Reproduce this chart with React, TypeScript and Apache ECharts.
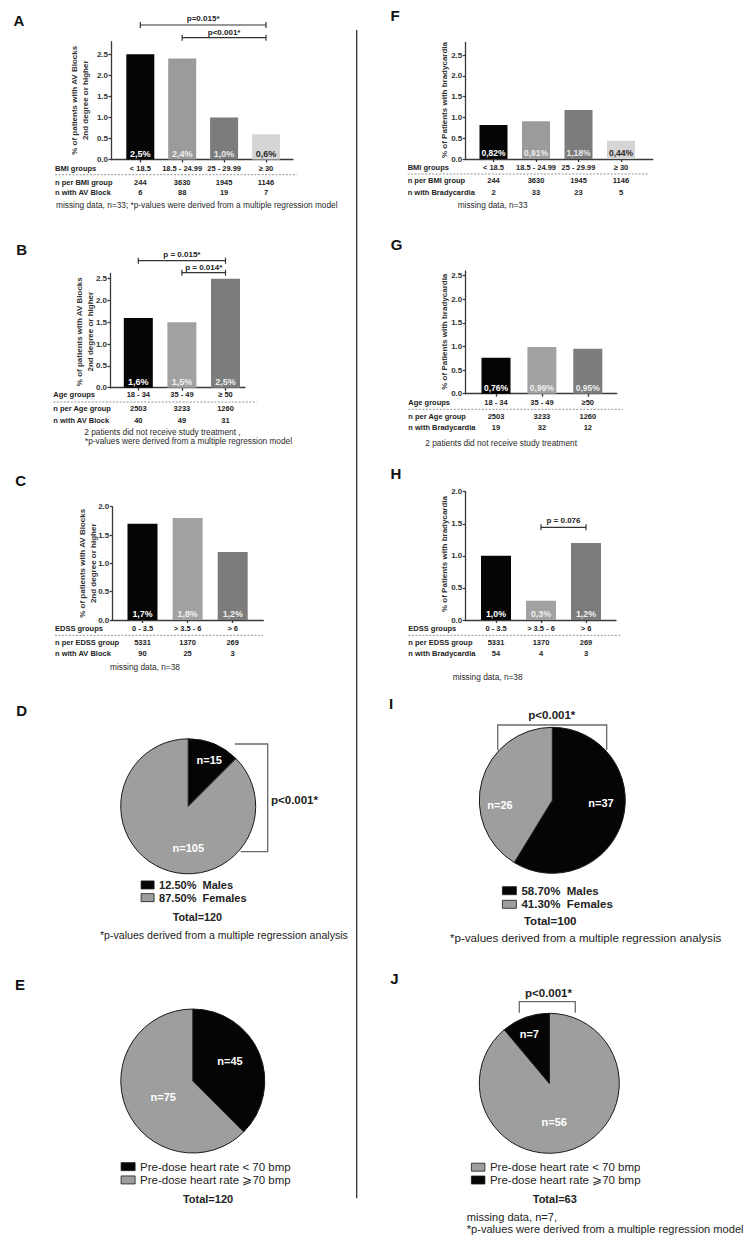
import React, { useEffect, useRef } from 'react';
import * as echarts from 'echarts';

const FONT = '"Liberation Sans", Arial, Helvetica, sans-serif';

// ---------- data ----------
const bmiGroups = ['< 18.5', '18.5 - 24.99', '25 - 29.99', '≥ 30'];
const nPerBmi = [244, 3630, 1945, 1146];
const avBlockBmi = [2.5, 2.4, 1.0, 0.6];
const nAvBlockBmi = [6, 88, 19, 7];
const bradyBmi = [0.82, 0.91, 1.18, 0.44];
const nBradyBmi = [2, 33, 23, 5];

const ageGroups = ['18 - 34', '35 - 49', '≥ 50'];
const ageGroupsBrady = ['18 - 34', '35 - 49', '≥50'];
const nPerAge = [2503, 3233, 1260];
const avBlockAge = [1.6, 1.5, 2.5];
const nAvBlockAge = [40, 49, 31];
const bradyAge = [0.76, 0.99, 0.95];
const nBradyAge = [19, 32, 12];

const edssGroups = ['0 - 3.5', '> 3.5 - 6', '> 6'];
const nPerEdss = [5331, 1370, 269];
const avBlockEdss = [1.7, 1.8, 1.2];
const nAvBlockEdss = [90, 25, 3];
const bradyEdss = [1.0, 0.3, 1.2];
const nBradyEdss = [54, 4, 3];

const ticksTo25 = [0, 0.5, 1.0, 1.5, 2.0, 2.5];
const ticksTo20 = [0, 0.5, 1.0, 1.5, 2.0];

const sexAvBlock = ['12.50%  Males', '87.50%  Females'];
const sexAvBlockN = [15, 105];
const sexBrady = ['58.70%  Males', '41.30%  Females'];
const sexBradyN = [37, 26];
const hrGroups = ['Pre-dose heart rate < 70 bmp', 'Pre-dose heart rate ⩾70 bmp'];
const hrAvBlockN = [45, 75];
const hrBradyN = [56, 7];

// ---------- styling / layout ----------
const BLACK = '#050505';
const GRAY = '#9e9e9e';
const FOUR_BARS = [BLACK, '#9b9b9b', '#7c7c7c', '#d5d5d5'];
const FOUR_LABELS = ['#ffffff', '#eeeeee', '#e8e8e8', '#2a2a2a'];
const THREE_BARS = [BLACK, '#a2a2a2', '#7c7c7c'];
const THREE_LABELS = ['#ffffff', '#f0f0f0', '#f0f0f0'];
const AV_TITLE = ['% of patients with AV Blocks', '2nd degree or higher'];
const BRADY_TITLE = ['% of Patients with bradycardia'];

interface Bracket { from: number; to: number; y: number; textY: number; text: string }
interface Note { text: string; x: number; y: number }
interface BarPanel {
  letter: string; letterPos: [number, number];
  cats: string[]; values: number[]; nPer: number[]; nWith: number[];
  rowNames: string[]; decimals: number; labelSize: number;
  colors: string[]; labelColors: string[];
  yTitle: string[]; yTitlePos: [number, number];
  axisX: number; axisY: number; xEnd: number; unitY: number; yMax: number; yTicks: number[];
  c0: number; step: number; barWidth: number;
  rowY: number[]; rowX: number; dashY: number; dashEnd: number;
  notes: Note[]; brackets: Bracket[];
}

const barPanels: BarPanel[] = [
  {
    letter: 'A', letterPos: [19, 20],
    cats: bmiGroups, values: avBlockBmi, nPer: nPerBmi, nWith: nAvBlockBmi,
    rowNames: ['BMI groups', 'n per BMI group', 'n with AV Block'], decimals: 1, labelSize: 9,
    colors: FOUR_BARS, labelColors: FOUR_LABELS,
    yTitle: AV_TITLE, yTitlePos: [80, 100.3],
    axisX: 111, axisY: 159.5, xEnd: 293, unitY: 42.08, yMax: 2.8, yTicks: ticksTo25,
    c0: 140.3, step: 41.9, barWidth: 28,
    rowY: [168.5, 182, 192.7], rowX: 55, dashY: 174.7, dashEnd: 297,
    notes: [{ text: 'missing data, n=33; *p-values were derived from a multiple regression model', x: 56, y: 205 }],
    brackets: [
      { from: 0, to: 3, y: 25, textY: 18.3, text: 'p=0.015*' },
      { from: 1, to: 3, y: 37.7, textY: 32.3, text: 'p<0.001*' },
    ],
  },
  {
    letter: 'F', letterPos: [395, 15.3],
    cats: bmiGroups, values: bradyBmi, nPer: nPerBmi, nWith: nBradyBmi,
    rowNames: ['BMI groups', 'n per BMI group', 'n with Bradycardia'], decimals: 2, labelSize: 8.5,
    colors: FOUR_BARS, labelColors: FOUR_LABELS,
    yTitle: BRADY_TITLE, yTitlePos: [444.3, 100],
    axisX: 465.3, axisY: 159, xEnd: 652.7, unitY: 41.6, yMax: 2.8, yTicks: ticksTo25,
    c0: 493.5, step: 42.5, barWidth: 28,
    rowY: [167.3, 180.3, 192], rowX: 407.7, dashY: 174, dashEnd: 649,
    notes: [{ text: 'missing data, n=33', x: 457.7, y: 205 }],
    brackets: [],
  },
  {
    letter: 'B', letterPos: [21.7, 249],
    cats: ageGroups, values: avBlockAge, nPer: nPerAge, nWith: nAvBlockAge,
    rowNames: ['Age groups', 'n per Age group', 'n with AV Block'], decimals: 1, labelSize: 9,
    colors: THREE_BARS, labelColors: THREE_LABELS,
    yTitle: AV_TITLE, yTitlePos: [85, 331.7],
    axisX: 110, axisY: 387.7, xEnd: 245, unitY: 43.6, yMax: 2.62, yTicks: ticksTo25,
    c0: 138.3, step: 43.6, barWidth: 29,
    rowY: [394.3, 408.3, 420], rowX: 53.3, dashY: 402, dashEnd: 256.7,
    notes: [
      { text: '2 patients did not receive study treatment ,', x: 84.3, y: 432 },
      { text: '*p-values were derived from a multiple regression model', x: 85, y: 441.3 },
    ],
    brackets: [
      { from: 0, to: 2, y: 260.7, textY: 254, text: 'p = 0.015*' },
      { from: 1, to: 2, y: 272.7, textY: 267.7, text: 'p = 0.014*' },
    ],
  },
  {
    letter: 'G', letterPos: [396.7, 244],
    cats: ageGroupsBrady, values: bradyAge, nPer: nPerAge, nWith: nBradyAge,
    rowNames: ['Age groups', 'n per Age group', 'n with Bradycardia'], decimals: 2, labelSize: 8.5,
    colors: THREE_BARS, labelColors: THREE_LABELS,
    yTitle: BRADY_TITLE, yTitlePos: [444.3, 331.7],
    axisX: 465.3, axisY: 393.7, xEnd: 616.7, unitY: 47.2, yMax: 2.6, yTicks: ticksTo25,
    c0: 496, step: 45.9, barWidth: 29,
    rowY: [402.7, 416, 427.7], rowX: 408.3, dashY: 409.3, dashEnd: 622.7,
    notes: [{ text: '2 patients did not receive study treatment', x: 425.3, y: 442.7 }],
    brackets: [],
  },
  {
    letter: 'C', letterPos: [20.7, 480],
    cats: edssGroups, values: avBlockEdss, nPer: nPerEdss, nWith: nAvBlockEdss,
    rowNames: ['EDSS groups', 'n per EDSS group', 'n with AV Block'], decimals: 1, labelSize: 8.8,
    colors: THREE_BARS, labelColors: THREE_LABELS,
    yTitle: AV_TITLE, yTitlePos: [87.8, 563.3],
    axisX: 112.3, axisY: 620, xEnd: 263.3, unitY: 56.65, yMax: 2.0, yTicks: ticksTo20,
    c0: 142.5, step: 45.1, barWidth: 30,
    rowY: [628.7, 642.3, 653.3], rowX: 55, dashY: 635.3, dashEnd: 263,
    notes: [{ text: 'missing data, n=38', x: 110, y: 667.3 }],
    brackets: [],
  },
  {
    letter: 'H', letterPos: [396, 473.3],
    cats: edssGroups, values: bradyEdss, nPer: nPerEdss, nWith: nBradyEdss,
    rowNames: ['EDSS groups', 'n per EDSS group', 'n with Bradycardia'], decimals: 1, labelSize: 8.8,
    colors: THREE_BARS, labelColors: THREE_LABELS,
    yTitle: BRADY_TITLE, yTitlePos: [444.3, 554],
    axisX: 465.3, axisY: 620, xEnd: 616, unitY: 64.15, yMax: 2.0, yTicks: ticksTo20,
    c0: 496, step: 45, barWidth: 30,
    rowY: [628.7, 642.3, 653.3], rowX: 408.3, dashY: 635.3, dashEnd: 621,
    notes: [{ text: 'missing data, n=38', x: 452.7, y: 677.3 }],
    brackets: [{ from: 1, to: 2, y: 527.3, textY: 520, text: 'p = 0.076' }],
  },
];

interface PiePanel {
  letter: string; letterPos: [number, number];
  names: string[]; values: number[]; colors: string[];
  center: [number, number]; radius: number; labelPos: [number, number][];
  legendLeft: number; legendTop: number; iconW: number; rowH: number; legendSize: number; legendBold: boolean;
  total: string; totalPos: [number, number]; totalSize: number;
  bracket?: number[][]; pText?: { x: number; y: number; align: string };
  notes: Note[]; noteSize: number;
}

const piePanels: PiePanel[] = [
  {
    letter: 'D', letterPos: [21.7, 710],
    names: sexAvBlock, values: sexAvBlockN, colors: [BLACK, GRAY],
    center: [188.2, 806.3], radius: 67.5, labelPos: [[209.3, 760], [188.3, 848.3]],
    legendLeft: 140.7, legendTop: 878.6, iconW: 13, rowH: 12.7, legendSize: 11, legendBold: true,
    total: 'Total=120', totalPos: [197.3, 916.7], totalSize: 10.8,
    bracket: [[235, 744], [267.7, 744], [267.7, 851.7], [240.7, 851.7]],
    pText: { x: 271, y: 800, align: 'left' },
    notes: [{ text: '*p-values derived from a multiple regression analysis', x: 100, y: 935.3 }], noteSize: 10.6,
  },
  {
    letter: 'I', letterPos: [391, 703.3],
    names: sexBrady, values: sexBradyN, colors: [BLACK, GRAY],
    center: [552.3, 800.3], radius: 73, labelPos: [[601, 803.3], [500, 805]],
    legendLeft: 502, legendTop: 883.9, iconW: 14, rowH: 13.6, legendSize: 11.5, legendBold: true,
    total: 'Total=100', totalPos: [550.2, 920.7], totalSize: 11.5,
    bracket: [[497.7, 750], [497.7, 725], [606.7, 725], [606.7, 750]],
    pText: { x: 551.8, y: 715, align: 'center' },
    notes: [{ text: '*p-values derived from a multiple regression analysis', x: 450, y: 937.3 }], noteSize: 11.6,
  },
  {
    letter: 'E', letterPos: [20, 984],
    names: hrGroups, values: hrAvBlockN, colors: [BLACK, GRAY],
    center: [192.8, 1081], radius: 72, labelPos: [[230, 1060.7], [163.3, 1097.3]],
    legendLeft: 120.7, legendTop: 1160, iconW: 14, rowH: 13.3, legendSize: 11.5, legendBold: false,
    total: 'Total=120', totalPos: [208, 1199.3], totalSize: 11,
    notes: [], noteSize: 11,
  },
  {
    letter: 'J', letterPos: [394.3, 978.3],
    names: hrGroups, values: hrBradyN, colors: [GRAY, BLACK],
    center: [549.3, 1083.3], radius: 70, labelPos: [[554.3, 1122.3], [529.3, 1034]],
    legendLeft: 471, legendTop: 1160.8, iconW: 13.5, rowH: 12.8, legendSize: 11.5, legendBold: false,
    total: 'Total=63', totalPos: [554.8, 1199], totalSize: 11,
    bracket: [[519.3, 1012.7], [519.3, 1001.7], [575.3, 1001.7], [575.3, 1012.7]],
    pText: { x: 548.5, y: 993.3, align: 'center' },
    notes: [
      { text: 'missing data, n=7,', x: 466.7, y: 1217.3 },
      { text: '*p-values were derived from a multiple regression model', x: 466.7, y: 1229.3 },
    ],
    noteSize: 11.1,
  },
];

// ---------- helpers ----------
const font = (size: number, bold = false) => `${bold ? 'bold ' : ''}${size}px ${FONT}`;

const text = (
  t: string, x: number, y: number, size: number,
  o: { bold?: boolean; align?: string; fill?: string; rotation?: number; lineHeight?: number } = {}
) => ({
  type: 'text', x, y, rotation: o.rotation ?? 0, silent: true,
  style: {
    text: t, font: font(size, o.bold), fill: o.fill ?? '#222',
    align: o.align ?? 'left', verticalAlign: 'middle', lineHeight: o.lineHeight,
  },
});

const line = (x1: number, y1: number, x2: number, y2: number, stroke = '#333', lineWidth = 1.2, lineDash?: number[]) => ({
  type: 'line', silent: true,
  shape: { x1, y1, x2, y2 },
  style: { stroke, lineWidth, lineDash },
});

function buildOption() {
  const grid: any[] = [];
  const xAxis: any[] = [];
  const yAxis: any[] = [];
  const series: any[] = [];
  const axisLineStyle = { color: '#3a3a3a', width: 1.3 };
  const tableLabel = { fontFamily: FONT, fontSize: 7.5, fontWeight: 'bold', color: '#222', lineHeight: 9 };

  barPanels.forEach((p, gi) => {
    const top = p.axisY - p.yMax * p.unitY;
    const xMin = (p.axisX - p.c0) / p.step;
    const xMax = (p.xEnd - p.c0) / p.step;
    const idx = p.cats.map((_, i) => i);
    grid.push({
      left: p.axisX, top, width: p.xEnd - p.axisX, height: p.axisY - top,
      containLabel: false, outerBoundsMode: 'none',
    });
    xAxis.push({
      type: 'value', gridIndex: gi, position: 'bottom', min: xMin, max: xMax,
      splitLine: { show: false },
      axisLine: { show: true, onZero: false, lineStyle: axisLineStyle },
      axisTick: { show: true, length: 3, customValues: idx, lineStyle: axisLineStyle },
      axisLabel: {
        ...tableLabel, margin: p.rowY[0] - p.axisY - 4.5, customValues: idx,
        formatter: (v: number) => p.cats[Math.round(v)],
      },
    });
    [p.nPer, p.nWith].forEach((arr, k) => {
      xAxis.push({
        type: 'value', gridIndex: gi, position: 'bottom', offset: p.rowY[k + 1] - p.axisY - 4.5,
        min: xMin, max: xMax,
        splitLine: { show: false }, axisLine: { show: false }, axisTick: { show: false },
        axisLabel: {
          ...tableLabel, margin: 0, customValues: idx,
          formatter: (v: number) => String(arr[Math.round(v)]),
        },
      });
    });
    yAxis.push({
      type: 'value', gridIndex: gi, min: 0, max: p.yMax,
      splitLine: { show: false },
      axisLine: { show: true, onZero: false, lineStyle: axisLineStyle },
      axisTick: { show: true, length: 2.5, customValues: p.yTicks, lineStyle: axisLineStyle },
      axisLabel: {
        customValues: p.yTicks, margin: 3, formatter: (v: number) => v.toFixed(1),
        fontFamily: FONT, fontSize: 8, fontWeight: 'bold', color: '#333',
      },
    });
    series.push({
      type: 'bar', xAxisIndex: gi * 3, yAxisIndex: gi, barWidth: p.barWidth, silent: true,
      data: p.values.map((v, i) => ({
        value: [i, v], itemStyle: { color: p.colors[i] }, label: { color: p.labelColors[i] },
      })),
      label: {
        show: true, position: 'insideBottom', distance: 1.5,
        fontFamily: FONT, fontSize: p.labelSize, fontWeight: 'bold',
        formatter: (prm: any) => prm.value[1].toFixed(p.decimals).replace('.', ',') + '%',
      },
    });
  });

  const legend: any[] = [];
  piePanels.forEach((p) => {
    series.push({
      type: 'pie', center: p.center, radius: p.radius, startAngle: 90, clockwise: true,
      silent: true, avoidLabelOverlap: false, emphasis: { disabled: true },
      itemStyle: { borderColor: '#1a1a1a', borderWidth: 1 },
      label: {
        show: true, position: 'inside', formatter: 'n={c}', color: '#fff', overflow: 'none',
        fontFamily: FONT, fontSize: 11, fontWeight: 'bold',
      },
      labelLine: { show: false },
      labelLayout: (prm: any) => ({
        x: p.labelPos[prm.dataIndex][0], y: p.labelPos[prm.dataIndex][1],
        align: 'center', verticalAlign: 'middle',
      }),
      data: p.names.map((n, i) => ({ name: n, value: p.values[i], itemStyle: { color: p.colors[i] } })),
    });
    legend.push({
      data: p.names.map((n, i) => ({ name: n, itemStyle: { color: p.colors[i], borderColor: '#1a1a1a', borderWidth: 0.8 } })),
      left: p.legendLeft, top: p.legendTop, orient: 'vertical', padding: 0, itemGap: 0,
      itemWidth: p.iconW, itemHeight: 8, icon: 'rect', selectedMode: false,
      textStyle: {
        fontFamily: FONT, fontSize: p.legendSize, fontWeight: p.legendBold ? 'bold' : 'normal',
        color: '#222', lineHeight: p.rowH,
      },
    });
  });

  return {
    animation: false,
    backgroundColor: '#ffffff',
    textStyle: { fontFamily: FONT },
    grid, xAxis, yAxis, series, legend,
  };
}

function staticGraphics() {
  const els: any[] = [];
  // divider between the two columns
  els.push(line(356.7, 30, 356.7, 1198.3, '#222', 1.2));

  barPanels.forEach((p) => {
    els.push(text(p.letter, p.letterPos[0], p.letterPos[1], 15, { bold: true, align: 'center', fill: '#111' }));
    els.push(text(p.yTitle.join('\n'), p.yTitlePos[0], p.yTitlePos[1], 8, {
      bold: true, align: 'center', fill: '#333', rotation: Math.PI / 2, lineHeight: 10.8,
    }));
    p.rowNames.forEach((n, k) => els.push(text(n, p.rowX, p.rowY[k], 7.5, { bold: true })));
    els.push(line(p.rowX, p.dashY, p.dashEnd, p.dashY, '#777', 0.8, [2, 1.5]));
    p.notes.forEach((n) => els.push(text(n.text, n.x, n.y, 8.3, { fill: '#2a2a2a' })));
  });

  piePanels.forEach((p) => {
    els.push(text(p.letter, p.letterPos[0], p.letterPos[1], 15, { bold: true, align: 'center', fill: '#111' }));
    if (p.bracket && p.pText) {
      els.push({
        type: 'polyline', silent: true, shape: { points: p.bracket },
        style: { stroke: '#6a6a6a', lineWidth: 1.3, fill: null },
      });
      els.push(text('p<0.001*', p.pText.x, p.pText.y, 11.5, { bold: true, align: p.pText.align }));
    }
    els.push(text(p.total, p.totalPos[0], p.totalPos[1], p.totalSize, { bold: true, align: 'center' }));
    p.notes.forEach((n) => els.push(text(n.text, n.x, n.y, p.noteSize)));
  });
  return els;
}

function bracketGraphics(chart: echarts.ECharts) {
  const els: any[] = [];
  barPanels.forEach((p, gi) => {
    p.brackets.forEach((b) => {
      const x1 = chart.convertToPixel({ xAxisIndex: gi * 3 }, b.from) as unknown as number;
      const x2 = chart.convertToPixel({ xAxisIndex: gi * 3 }, b.to) as unknown as number;
      els.push(line(x1, b.y, x2, b.y));
      els.push(line(x1, b.y - 3, x1, b.y + 3));
      els.push(line(x2, b.y - 3, x2, b.y + 3));
      els.push(text(b.text, (x1 + x2) / 2, b.textY, 8, { bold: true, align: 'center' }));
    });
  });
  return els;
}

export default function App() {
  const chartRef = useRef<HTMLDivElement>(null);

  useEffect(() => {
    if (!chartRef.current) return;
    const chart = echarts.init(chartRef.current, null, { renderer: 'svg' });
    chart.setOption(buildOption());
    chart.setOption({ graphic: { elements: [...staticGraphics(), ...bracketGraphics(chart)] } });
    return () => {
      chart.dispose();
    };
  }, []);

  return (
    <div
      ref={chartRef}
      style={{ position: 'absolute', left: 0, top: 0, width: 753, height: 1240, background: '#fff' }}
    />
  );
}
